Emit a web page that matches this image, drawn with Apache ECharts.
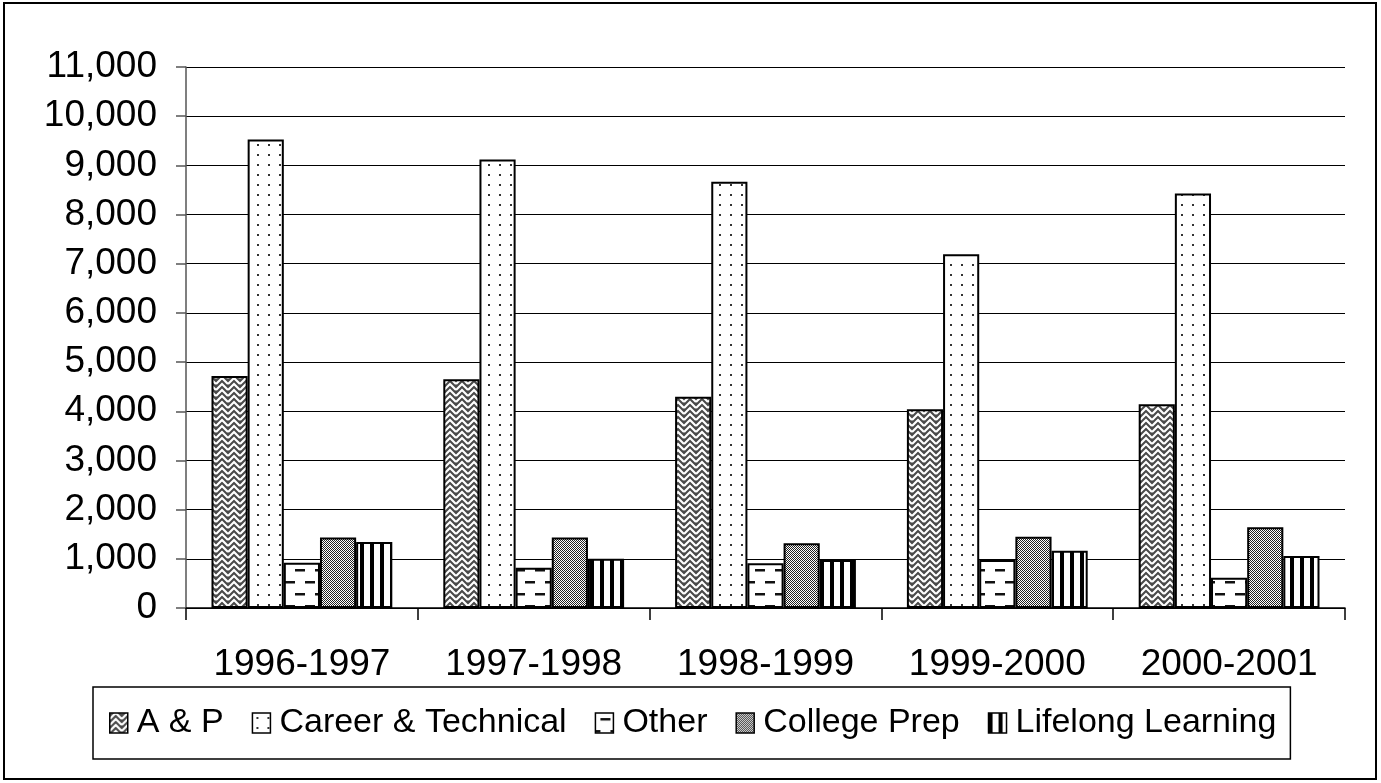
<!DOCTYPE html>
<html lang="en">
<head>
<meta charset="utf-8">
<title>Enrollment by program</title>
<script src="https://cdn.jsdelivr.net/npm/echarts@6/dist/echarts.min.js"></script>
<style>
  html, body { margin: 0; padding: 0; background: #fff; }
  #main { width: 1381px; height: 783px; }
</style>
</head>
<body>
<div id="main"></div>
<script>
// data
var years = ['1996-1997', '1997-1998', '1998-1999', '1999-2000', '2000-2001'];
var seriesNames = ['A & P', 'Career & Technical', 'Other', 'College Prep', 'Lifelong Learning'];
var apValues = [4715, 4650, 4295, 4040, 4145];
var careerValues = [9525, 9120, 8665, 7195, 8430];
var otherValues = [920, 820, 910, 975, 615];
var prepValues = [1435, 1435, 1315, 1450, 1640];
var lifelongValues = [1340, 1000, 975, 1165, 1055];

var font = '"Liberation Sans", Arial, sans-serif';

// little canvas tiles used as pattern fills (Excel style hatching)
function tile(w, h, draw) {
    var c = document.createElement('canvas');
    c.width = w; c.height = h;
    var ctx = c.getContext('2d');
    ctx.fillStyle = '#fff';
    ctx.fillRect(0, 0, w, h);
    draw(ctx);
    return { image: c, repeat: 'repeat' };
}

var weave = tile(12, 12, function (ctx) {
    ctx.fillStyle = '#4a4a4a';
    ctx.fillRect(0, 0, 12, 12);
    ctx.strokeStyle = '#fff';
    ctx.lineWidth = 2.2;
    for (var y = -12; y <= 24; y += 6) {
        ctx.beginPath();
        ctx.moveTo(0, y + 6);
        ctx.lineTo(6, y);
        ctx.lineTo(12, y + 6);
        ctx.stroke();
    }
});

var dots = tile(11, 10, function (ctx) {
    ctx.fillStyle = '#333';
    ctx.fillRect(4, 4, 2, 2);
});

var dashes = tile(20, 24, function (ctx) {
    ctx.fillStyle = '#111';
    ctx.fillRect(5, 5, 10, 2.5);
    ctx.fillRect(-5, 17, 10, 2.5);
    ctx.fillRect(15, 17, 10, 2.5);
});

var checker = tile(2, 2, function (ctx) {
    ctx.fillStyle = '#222';
    ctx.fillRect(0, 0, 1, 1);
    ctx.fillRect(1, 1, 1, 1);
});

var stripes = tile(10, 4, function (ctx) {
    ctx.fillStyle = '#000';
    ctx.fillRect(0, 0, 4, 4);
});

var fills = [weave, dots, dashes, checker, stripes];
var values = [apValues, careerValues, otherValues, prepValues, lifelongValues];

function thousands(v) {
    return String(v).replace(/\B(?=(\d{3})+(?!\d))/g, ',');
}

var series = seriesNames.map(function (name, i) {
    return {
        name: name,
        type: 'bar',
        data: values[i],
        barGap: '0%',
        barCategoryGap: '22%',
        itemStyle: {
            color: fills[i],
            borderColor: '#000',
            borderWidth: 2
        }
    };
});

var chart = echarts.init(document.getElementById('main'));
chart.setOption({
    animation: false,
    backgroundColor: '#fff',
    textStyle: { fontFamily: font },
    grid: { left: 186, right: 36, top: 67, bottom: 175 },
    legend: {
        left: 93,
        top: 687,
        orient: 'horizontal',
        padding: [18, 14, 18, 16],
        borderColor: '#000',
        borderWidth: 1.5,
        itemWidth: 18,
        itemHeight: 20,
        itemGap: 28,
        icon: 'rect',
        itemStyle: { borderColor: '#000', borderWidth: 1.5 },
        textStyle: {
            fontFamily: font,
            fontSize: 34,
            lineHeight: 36,
            color: '#000',
            padding: [0, 0, 0, 4]
        },
        data: seriesNames
    },
    xAxis: {
        type: 'category',
        data: years,
        axisLine: { lineStyle: { color: '#000', width: 1.5 } },
        axisTick: { show: true, length: 12, lineStyle: { color: '#000', width: 1.5 } },
        axisLabel: { color: '#000', fontSize: 37, fontFamily: font, margin: 38, interval: 0 }
    },
    yAxis: {
        type: 'value',
        min: 0,
        max: 11000,
        interval: 1000,
        axisLine: { show: true, lineStyle: { color: '#555', width: 1.5 } },
        axisTick: { show: true, length: 10, lineStyle: { color: '#555', width: 1.5 } },
        axisLabel: { color: '#000', fontSize: 37, fontFamily: font, margin: 29, formatter: thousands },
        splitLine: { show: true, lineStyle: { color: '#000', width: 1.2 } }
    },
    graphic: [{
        type: 'rect',
        silent: true,
        shape: { x: 4, y: 3, width: 1372, height: 776 },
        style: { fill: 'none', stroke: '#000', lineWidth: 2 }
    }],
    series: series
});
</script>
</body>
</html>
